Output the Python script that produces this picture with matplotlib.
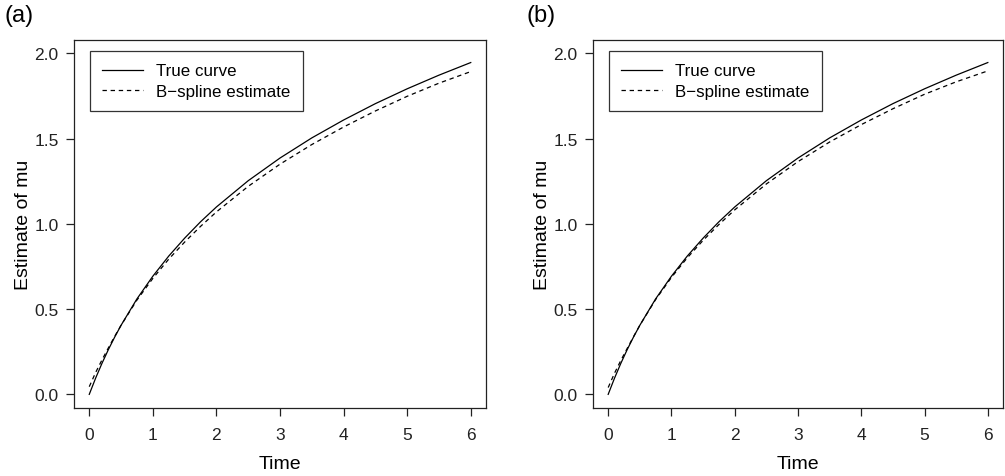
import matplotlib
matplotlib.use("Agg")
import matplotlib.pyplot as plt

plt.rcParams['font.family'] = ['Liberation Sans', 'DejaVu Sans']

time = [0, 0.1, 0.2, 0.3, 0.4, 0.5, 0.75, 1, 1.25, 1.5, 1.75, 2, 2.5, 3, 3.5, 4, 4.5, 5, 5.5, 6]
true_curve = [0, 0.095, 0.182, 0.262, 0.336, 0.405, 0.560, 0.693, 0.811, 0.916, 1.012, 1.099,
              1.253, 1.386, 1.504, 1.609, 1.705, 1.792, 1.872, 1.946]
est_a = [0.045, 0.128, 0.202, 0.272, 0.340, 0.405, 0.553, 0.680, 0.793, 0.893, 0.985, 1.070,
         1.220, 1.350, 1.465, 1.568, 1.662, 1.748, 1.825, 1.893]
est_b = [0.040, 0.124, 0.199, 0.269, 0.338, 0.405, 0.556, 0.686, 0.801, 0.903, 0.996, 1.082,
         1.234, 1.365, 1.480, 1.582, 1.675, 1.760, 1.833, 1.897]

panels = ["(a)", "(b)"]
estimates = [est_a, est_b]
xticks = [0, 1, 2, 3, 4, 5, 6]
yticks = [0.0, 0.5, 1.0, 1.5, 2.0]
labels = ["True curve", "B\u2212spline estimate"]

fig = plt.figure(figsize=(10.05, 4.77), dpi=100)
axes_pos = [[74/1005, 68/477, 412/1005, 368.3/477],
            [593/1005, 68/477, 410/1005, 368.3/477]]
label_x = [4/1005, 526/1005]

for i in range(2):
    ax = fig.add_axes(axes_pos[i])
    ax.plot(time, true_curve, color='black', lw=0.9, label=labels[0])
    ax.plot(time, estimates[i], color='black', lw=0.9, ls=(0, (3.5, 3)), label=labels[1])
    ax.set_xlim(-0.24, 6.24)
    ax.set_ylim(-0.08, 2.08)
    ax.set_xticks(xticks)
    ax.set_yticks(yticks)
    ax.set_xticklabels([str(t) for t in xticks])
    ax.set_yticklabels([f"{v:.1f}" for v in yticks])
    ax.tick_params(direction='out', length=6, width=0.9, labelsize=12.5, colors='#222222')
    ax.tick_params(axis='x', pad=8)
    ax.tick_params(axis='y', pad=5)
    for s in ax.spines.values():
        s.set_linewidth(0.9)
        s.set_color('#222222')
    ax.set_xlabel("Time", fontsize=14, labelpad=9)
    ax.set_ylabel("Estimate of mu", fontsize=14, labelpad=2)
    leg = ax.legend(loc='upper left', bbox_to_anchor=(0.038, 0.97), fontsize=12.2,
                    frameon=True, fancybox=False, edgecolor='black', handlelength=2.4,
                    handletextpad=0.75, borderpad=0.75, labelspacing=0.3, borderaxespad=0)
    leg.get_frame().set_linewidth(0.9)
    fig.text(label_x[i], 0.99, panels[i], fontsize=17, va='top', ha='left')

fig.savefig("out.png", dpi=100)
